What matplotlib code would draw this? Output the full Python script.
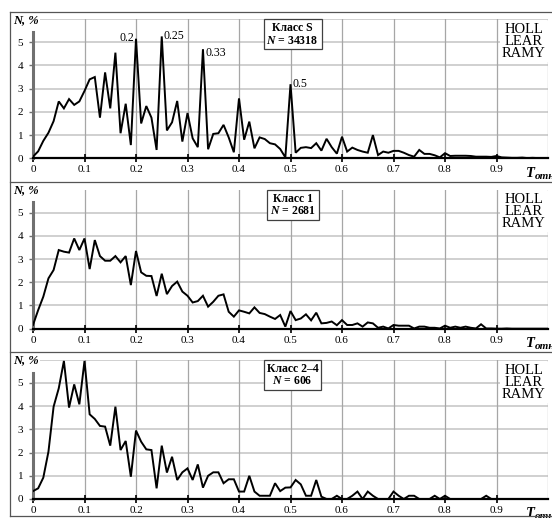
import numpy as np
import matplotlib
matplotlib.use("Agg")
import matplotlib.pyplot as plt
from matplotlib.lines import Line2D

plt.rcParams['font.family'] = ['Liberation Serif', 'DejaVu Serif']
plt.rcParams['mathtext.fontset'] = 'custom'
plt.rcParams['mathtext.bfit'] = 'Liberation Serif:italic:bold'
plt.rcParams['mathtext.rm'] = 'Liberation Serif'
plt.rcParams['mathtext.it'] = 'Liberation Serif:italic'
plt.rcParams['mathtext.bf'] = 'Liberation Serif:bold'

# ---------------- data ----------------
t_rel = np.round(np.arange(0, 101) * 0.01, 2)

class_s = [0.07, 0.30, 0.75, 1.10, 1.60, 2.45, 2.15, 2.55, 2.30, 2.45,
           2.90, 3.40, 3.50, 1.75, 3.70, 2.15, 4.55, 1.08, 2.35, 0.57,
           5.15, 1.50, 2.25, 1.75, 0.36, 5.25, 1.20, 1.55, 2.47, 0.72,
           1.95, 0.86, 0.48, 4.70, 0.39, 1.05, 1.08, 1.44, 0.90, 0.26,
           2.58, 0.80, 1.58, 0.43, 0.90, 0.83, 0.65, 0.60, 0.40, 0.04,
           3.19, 0.24, 0.45, 0.48, 0.44, 0.65, 0.33, 0.84, 0.48, 0.20,
           0.93, 0.29, 0.46, 0.36, 0.29, 0.24, 1.00, 0.14, 0.29, 0.24,
           0.32, 0.32, 0.24, 0.14, 0.07, 0.36, 0.19, 0.19, 0.13, 0.04,
           0.22, 0.10, 0.11, 0.11, 0.11, 0.10, 0.07, 0.07, 0.07, 0.06,
           0.10, 0.04, 0.03, 0.02, 0.02, 0.03, 0.01, 0.02, 0.01, 0.01,
           0.00]

class_1 = [0.16, 0.80, 1.38, 2.17, 2.53, 3.39, 3.32, 3.28, 3.89, 3.39,
           3.89, 2.57, 3.82, 3.13, 2.93, 2.93, 3.13, 2.86, 3.13, 1.88,
           3.35, 2.43, 2.28, 2.27, 1.41, 2.37, 1.49, 1.84, 2.03, 1.60,
           1.42, 1.13, 1.19, 1.42, 0.95, 1.16, 1.42, 1.48, 0.73, 0.52,
           0.79, 0.73, 0.66, 0.92, 0.68, 0.63, 0.52, 0.42, 0.59, 0.09,
           0.76, 0.37, 0.44, 0.62, 0.36, 0.69, 0.23, 0.25, 0.31, 0.15,
           0.37, 0.16, 0.16, 0.23, 0.09, 0.27, 0.23, 0.04, 0.09, 0.01,
           0.16, 0.13, 0.13, 0.13, 0.01, 0.09, 0.09, 0.04, 0.04, 0.01,
           0.13, 0.04, 0.09, 0.04, 0.09, 0.04, 0.01, 0.19, 0.01, 0.01,
           0.00, 0.00, 0.01, 0.00, 0.00, 0.00, 0.00, 0.00, 0.00, 0.00,
           0.00]

class_24 = [0.34, 0.46, 0.92, 2.04, 3.98, 4.77, 5.95, 3.94, 4.94, 4.08,
            5.95, 3.65, 3.45, 3.15, 3.12, 2.30, 3.98, 2.11, 2.50, 0.96,
            2.95, 2.47, 2.14, 2.11, 0.46, 2.30, 1.14, 1.82, 0.82, 1.15,
            1.32, 0.82, 1.49, 0.49, 1.00, 1.15, 1.15, 0.68, 0.85, 0.85,
            0.32, 0.32, 1.00, 0.32, 0.14, 0.14, 0.14, 0.68, 0.34, 0.49,
            0.50, 0.82, 0.63, 0.14, 0.14, 0.82, 0.10, 0.00, 0.00, 0.14,
            0.00, 0.00, 0.14, 0.32, 0.00, 0.32, 0.14, 0.00, 0.00, 0.00,
            0.32, 0.14, 0.00, 0.14, 0.14, 0.00, 0.00, 0.00, 0.14, 0.00,
            0.14, 0.00, 0.00, 0.00, 0.00, 0.00, 0.00, 0.00, 0.14, 0.00,
            0.00, 0.00, 0.00, 0.00, 0.00, 0.00, 0.00, 0.00, 0.00, 0.00,
            0.00]

panel_titles = ["Класс S", "Класс 1", "Класс 2–4"]
panel_counts = ["34318", "2681", "606"]
series = [class_s, class_1, class_24]

peak_x = [0.2, 0.25, 0.33, 0.5]
peak_labels = ["0.2", "0.25", "0.33", "0.5"]

x_ticks = [0, 0.1, 0.2, 0.3, 0.4, 0.5, 0.6, 0.7, 0.8, 0.9]
x_tick_labels = ["0", "0.1", "0.2", "0.3", "0.4", "0.5", "0.6", "0.7", "0.8", "0.9"]
y_ticks = [0, 1, 2, 3, 4, 5]

# ---------------- figure ----------------
W, H = 552, 518
fig = plt.figure(figsize=(W / 100, H / 100), dpi=100)

panels_px = [(158.3, 19.0), (328.7, 189.5), (499.0, 359.8)]
x0_px, x1_px = 33, 548

frame_col = '#555555'
# frame lines (chart area borders)
for yy in [12, 182, 352, 516]:
    fig.add_artist(Line2D([10 / W, 1.0], [1 - yy / H, 1 - yy / H],
                          transform=fig.transFigure, color=frame_col, lw=0.9))
fig.add_artist(Line2D([10 / W, 10 / W], [1 - 12 / H, 1 - 516 / H],
                      transform=fig.transFigure, color=frame_col, lw=0.9))

for k, (y0, y6) in enumerate(panels_px):
    ax = fig.add_axes([x0_px / W, 1 - y0 / H, (x1_px - x0_px) / W, (y0 - y6) / H])
    ax.set_xlim(0, 1)
    ax.set_ylim(0, 6)
    ax.patch.set_alpha(0)

    for v in range(1, 7):
        ax.axhline(v, color='#c4c4c4', lw=1.1, zorder=0)
    for v in np.arange(1, 11) / 10:
        ax.axvline(v, color='#a6a6a6', lw=0.9, zorder=0)

    ax.plot(t_rel, series[k], color='black', lw=1.4, zorder=3, clip_on=True,
            solid_joinstyle='miter')

    for s in ['top', 'right']:
        ax.spines[s].set_visible(False)
    ax.spines['left'].set_bounds(0, 5.45)
    ax.spines['left'].set_color('#707070')
    ax.spines['left'].set_linewidth(2.2)
    ax.spines['bottom'].set_bounds(0, 1)
    ax.spines['bottom'].set_color('black')
    ax.spines['bottom'].set_linewidth(1.6)
    ax.spines['bottom'].set_zorder(4)

    ax.set_xticks(x_ticks)
    ax.set_xticklabels(x_tick_labels)
    ax.set_yticks(y_ticks)
    ax.set_yticklabels([str(v) for v in y_ticks])
    ax.tick_params(axis='x', direction='inout', length=6, width=1.2,
                   color='black', pad=2, labelsize=8)
    ax.tick_params(axis='y', direction='out', length=3, width=1.0,
                   color='#707070', pad=4, labelsize=8)

    # axis names
    ax.text(-0.038, 0.995, 'N, %', transform=ax.transAxes, ha='left', va='center',
            fontsize=9, fontweight='bold', fontstyle='italic', zorder=6,
            bbox=dict(facecolor='white', edgecolor='none', pad=1.0))
    ax.text(0.958, -0.06, 'T', transform=ax.transAxes, ha='left', va='top',
            fontsize=10.5, fontweight='bold', fontstyle='italic')
    ax.text(0.975, -0.095, 'отн', transform=ax.transAxes, ha='left', va='top',
            fontsize=8, fontweight='bold', fontstyle='italic')

    # class box
    ax.text(0.504, 0.89, panel_titles[k] + '\n' + r'$\mathbfit{N}$ = ' + panel_counts[k],
            transform=ax.transAxes, ha='center', va='center', multialignment='center',
            fontsize=8.5, fontweight='bold', linespacing=1.05, zorder=6,
            bbox=dict(facecolor='white', edgecolor='#404040', lw=0.9,
                      boxstyle='square,pad=0.25'))

    # stations
    ax.text(0.953, 0.972, 'HOLL\nLEAR\nRAMY', transform=ax.transAxes,
            ha='center', va='top', multialignment='center', fontsize=10.5,
            linespacing=0.9, zorder=6,
            bbox=dict(facecolor='white', edgecolor='none', pad=1.5))

    if k == 0:
        for px, lab in zip(peak_x, peak_labels):
            idx = int(round(px * 100))
            yv = series[0][idx]
            if lab == "0.2":
                ax.text(px - 0.003, yv + 0.05, lab, ha='right', va='center', fontsize=8.5)
            elif lab == "0.33":
                ax.text(px + 0.004, yv - 0.15, lab, ha='left', va='center', fontsize=8.5)
            else:
                ax.text(px + 0.004, yv + 0.02, lab, ha='left', va='center', fontsize=8.5)

fig.savefig('out.png', dpi=100)
